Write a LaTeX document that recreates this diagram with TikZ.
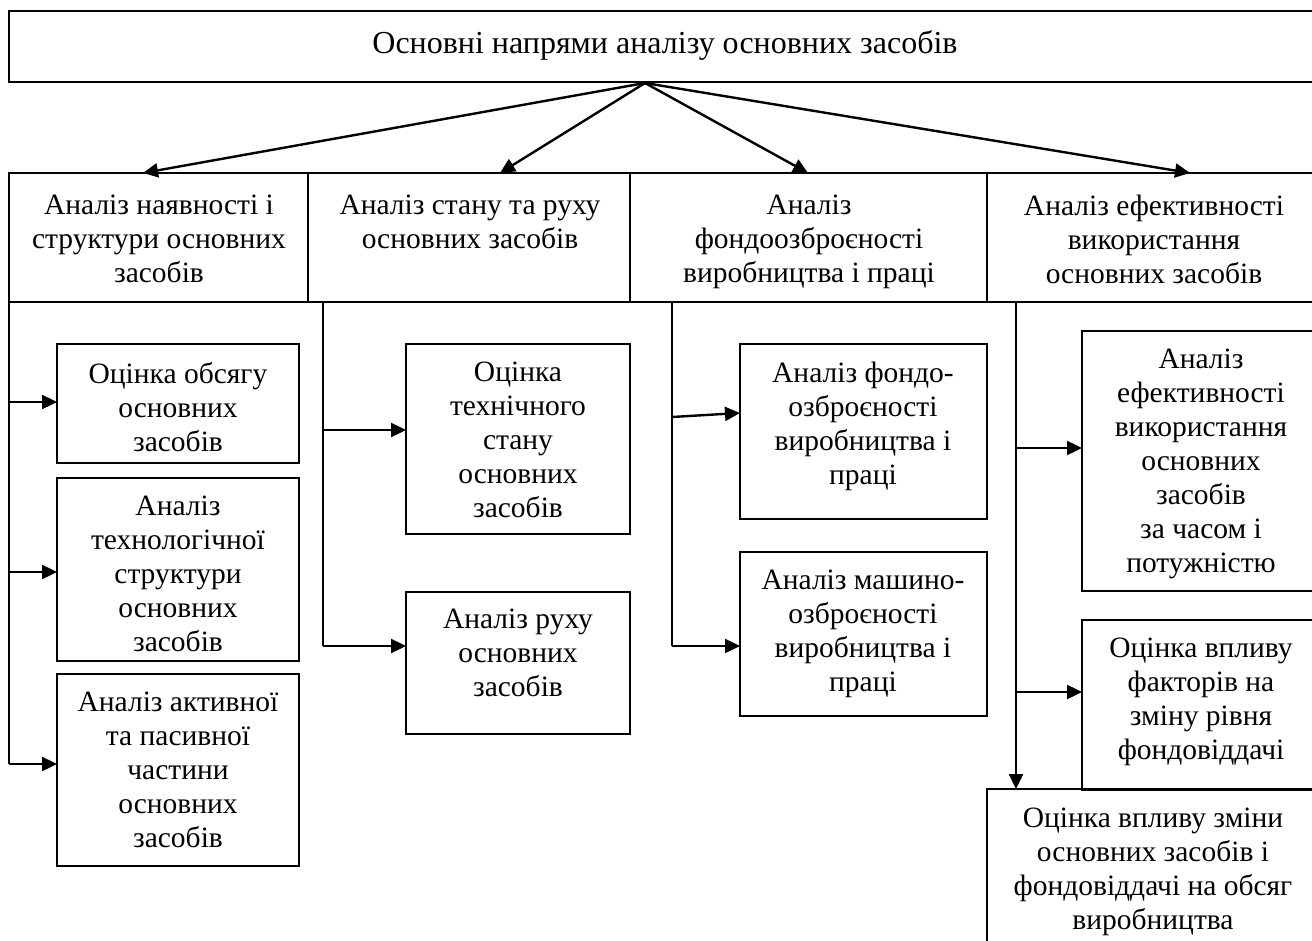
\documentclass[tikz,border=0pt]{standalone}
\usepackage{fontspec}
\setmainfont{Liberation Serif}
\usetikzlibrary{arrows.meta}
\tikzset{
  ln/.style={line width=2.4pt},
  arr/.style={line width=2.4pt,-{Triangle[length=15pt,width=14pt]}},
  box/.style={draw,line width=2.4pt,rectangle,inner sep=0pt,outer sep=0pt,anchor=north west},
  txt/.style={anchor=north,align=center,inner sep=0pt,font=\fontsize{29.5}{34}\selectfont,execute at begin node=\strut},
}
\begin{document}
\begin{tikzpicture}[x=1pt,y=-1pt]
\useasboundingbox (0,0) rectangle (1312,941);
\clip (0,0) rectangle (1312,941);
\fill[white] (0,0) rectangle (1312,941);
% title
\node[box,minimum width=1311pt,minimum height=71pt] (T) at (9,11) {};
\node[anchor=base,inner sep=0pt,font=\fontsize{32}{36}\selectfont] (Tt) at (665,54) {Основні напрями аналізу основних засобів};
% header row
\node[box,minimum width=299pt,minimum height=129pt] (h1) at (9,173) {};
\node[box,minimum width=322pt,minimum height=129pt] (h2) at (308,173) {};
\node[box,minimum width=357pt,minimum height=129pt] (h3) at (630,173) {};
\node[box,minimum width=333pt,minimum height=129pt] (h4) at (987,173) {};
\node[txt] (h1t) at (159,195) {Аналіз наявності і\\структури основних\\засобів};
\node[txt] (h2t) at (470,195) {Аналіз стану та руху\\основних засобів};
\node[txt] (h3t) at (809,195) {Аналіз\\фондоозброєності\\виробництва і праці};
\node[txt] (h4t) at (1154,195) {Аналіз ефективності\\використання\\основних засобів};
% top arrows
\coordinate (hub) at (645,83);
\coordinate (t1) at (143,173);
\coordinate (t2) at (500,173);
\coordinate (t3) at (808,173);
\coordinate (t4) at (1190,173);
\draw[arr] (hub) -- (t1);
\draw[arr] (hub) -- (t2);
\draw[arr] (hub) -- (t3);
\draw[arr] (hub) -- (t4);
% column 1
\node[box,minimum width=242pt,minimum height=119pt] (c11) at (57,344) {};
\node[box,minimum width=242pt,minimum height=183pt] (c12) at (57,478) {};
\node[box,minimum width=242pt,minimum height=192pt] (c13) at (57,674) {};
\node[txt] (c11t) at (178,362) {Оцінка обсягу\\основних\\засобів};
\node[txt] (c12t) at (178,496) {Аналіз\\технологічної\\структури\\основних\\засобів};
\node[txt] (c13t) at (178,692) {Аналіз активної\\та пасивної\\частини\\основних\\засобів};
\coordinate (b1) at (9,302);
\coordinate (a11) at (9,402);
\coordinate (a12) at (9,572);
\coordinate (a13) at (9,764);
\draw[ln] (b1) -- (a13);
\draw[arr] (a11) -- (a11 -| c11.west);
\draw[arr] (a12) -- (a12 -| c12.west);
\draw[arr] (a13) -- (a13 -| c13.west);
% column 2
\node[box,minimum width=224pt,minimum height=190pt] (c21) at (406,344) {};
\node[box,minimum width=224pt,minimum height=142pt] (c22) at (406,592) {};
\node[txt] (c21t) at (518,362) {Оцінка\\технічного\\стану\\основних\\засобів};
\node[txt] (c22t) at (518,609) {Аналіз руху\\основних\\засобів};
\coordinate (b2) at (323,302);
\coordinate (a21) at (323,430);
\coordinate (a22) at (323,646);
\draw[ln] (b2) -- (a22);
\draw[arr] (a21) -- (a21 -| c21.west);
\draw[arr] (a22) -- (a22 -| c22.west);
% column 3
\node[box,minimum width=247pt,minimum height=175pt] (c31) at (740,344) {};
\node[box,minimum width=247pt,minimum height=164pt] (c32) at (740,552) {};
\node[txt] (c31t) at (863,362) {Аналіз фондо-\\озброєності\\виробництва і\\праці};
\node[txt] (c32t) at (863,570) {Аналіз машино-\\озброєності\\виробництва і\\праці};
\coordinate (b3) at (672,302);
\coordinate (a31) at (672,417);
\coordinate (e31) at (740,413);
\coordinate (a32) at (672,646);
\draw[ln] (b3) -- (a32);
\draw[arr] (a31) -- (e31);
\draw[arr] (a32) -- (a32 -| c32.west);
% column 4
\node[box,minimum width=238pt,minimum height=260pt] (c41) at (1082,331) {};
\node[box,minimum width=238pt,minimum height=170pt] (c42) at (1082,620) {};
\node[box,minimum width=333pt,minimum height=171pt] (c43) at (987,789) {};
\node[txt] (c41t) at (1201,349) {Аналіз\\ефективності\\використання\\основних\\засобів\\за часом і\\потужністю};
\node[txt] (c42t) at (1201,638) {Оцінка впливу\\факторів на\\зміну рівня\\фондовіддачі};
\node[txt] (c43t) at (1153,808) {Оцінка впливу зміни\\основних засобів і\\фондовіддачі на обсяг\\виробництва};
\coordinate (b4) at (1016,302);
\coordinate (a41) at (1016,448);
\coordinate (a42) at (1016,692);
\draw[arr] (b4) -- (b4 |- c43.north);
\draw[arr] (a41) -- (a41 -| c41.west);
\draw[arr] (a42) -- (a42 -| c42.west);
\end{tikzpicture}
\end{document}
